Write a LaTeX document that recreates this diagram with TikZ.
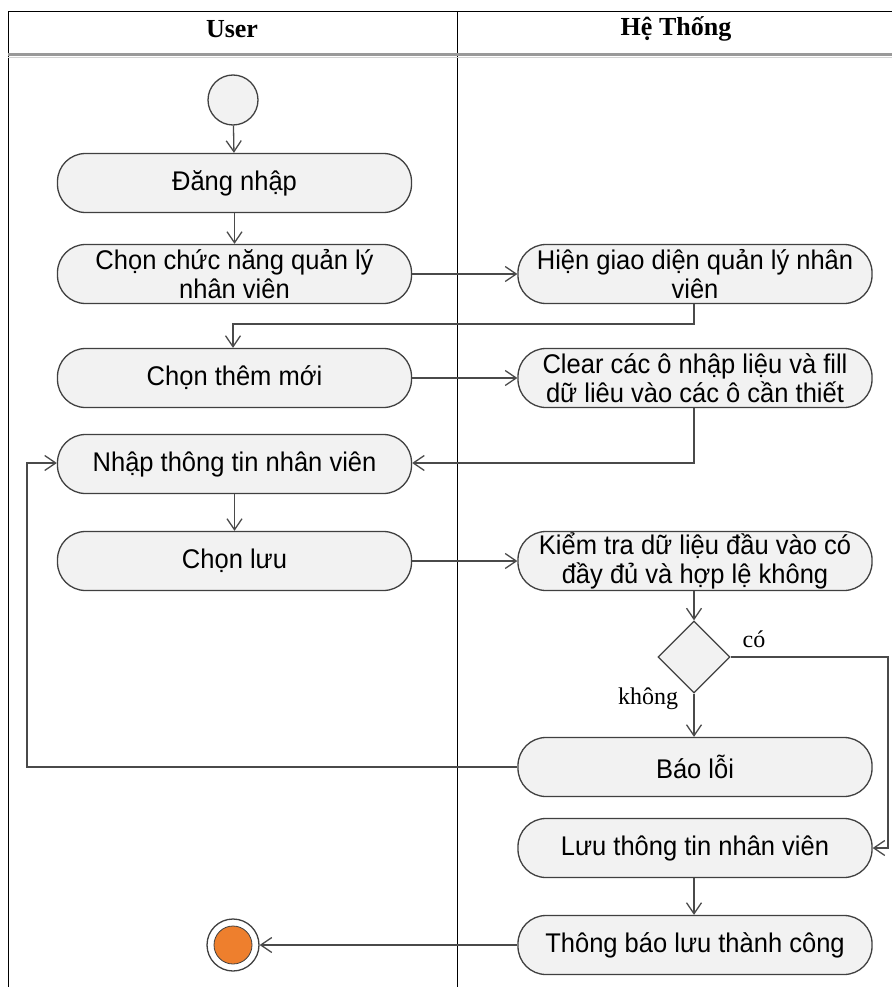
\documentclass[tikz,border=0pt]{standalone}
\usepackage{fontspec}
\setmainfont{Liberation Sans}[FakeStretch=0.945]
\newfontfamily\lanefont{Liberation Serif}
\usetikzlibrary{arrows.meta,shapes.geometric}
\definecolor{boxfill}{HTML}{F2F2F2}
\definecolor{boxline}{HTML}{404040}
\definecolor{flowline}{HTML}{4A4A4A}
\definecolor{endfill}{HTML}{EE7F2D}
\tikzset{
  action/.style={draw=boxline, line width=1.3pt, fill=boxfill, rounded corners=28pt,
    minimum width=354pt, minimum height=59pt, inner sep=0pt, align=center,
    font=\fontsize{27}{29}\selectfont},
  flow/.style={draw=flowline, line width=1.3pt, -{Straight Barb[length=11pt,width=15pt,line width=1.3pt]}},
  lanehead/.style={font=\lanefont\bfseries\fontsize{26}{28}\selectfont},
  guard/.style={font=\lanefont\fontsize{24}{28}\selectfont, inner sep=0pt},
  decision/.style={diamond, draw=boxline, line width=1.3pt, fill=boxfill,
    minimum width=72pt, minimum height=72pt, inner sep=0pt}
}
\begin{document}
\begin{tikzpicture}[x=1pt,y=-1pt]
\useasboundingbox (0,0) rectangle (892,987);

% swimlane frame
\draw[black, line width=1pt] (8,987) -- (8,12) -- (892,12);
\draw[black, line width=1pt] (457,12) -- (457,987);
\draw[gray!80, line width=2.2pt] (8,54.5) -- (892,54.5);
\draw[gray!35, line width=1.2pt] (8,57.5) -- (892,57.5);
\node[lanehead] (laneuser) at (232,29) {User};
\node[lanehead] (lanesys) at (676,29) {Hệ Thống};

% start node
\node[circle, draw=boxline, line width=1.3pt, fill=boxfill, minimum size=50pt, inner sep=0pt] (start) at (233,100) {};

% user actions
\node[action] (login) at (234.5,183) {Đăng nhập};
\node[action] (choosefn) at (234.5,274) {Chọn chức năng quản lý\\nhân viên};
\node[action] (addnew) at (234.5,378) {Chọn thêm mới};
\node[action] (input) at (234.5,464) {Nhập thông tin nhân viên};
\node[action] (save) at (234.5,561) {Chọn lưu};

% system actions
\node[action] (showui) at (695,274) {Hiện giao diện quản lý nhân\\viên};
\node[action] (clear) at (695,378) {Clear các ô nhập liệu và fill\\dữ liêu vào các ô cần thiết};
\node[action] (check) at (695,561) {Kiểm tra dữ liệu đầu vào có\\đầy đủ và hợp lệ không};
\node[decision] (valid) at (694,657) {};
\node[action] (error) at (695,767) {Báo lỗi};
\node[action] (store) at (695,848) {Lưu thông tin nhân viên};
\node[action] (notify) at (695,945) {Thông báo lưu thành công};

% final node
\node[circle, draw=boxline, line width=1.3pt, fill=white, minimum size=52pt, inner sep=0pt] (final) at (233,945) {};
\node[circle, draw=boxline, line width=0.8pt, fill=endfill, minimum size=38pt, inner sep=0pt] (finaldot) at (233,945) {};

% guard labels
\node[guard] (yes) at (754,639) {có};
\node[guard] (no) at (648,699) {không};

% control flow
\coordinate (turnA) at (694,324);
\coordinate (turnB) at (233,324);
\coordinate (turnC) at (694,463);
\coordinate (turnD) at (888,657);
\coordinate (turnE) at (888,848);
\coordinate (turnF) at (27,767);
\coordinate (turnG) at (27,463);

\draw[flow] (start) -- (login);
\draw[flow] (login) -- (choosefn);
\draw[flow] (choosefn.east) -- (showui.west);
\draw[flow] (showui.south -| turnA) -- (turnA) -- (turnB) -- (addnew.north -| turnB);
\draw[flow] (addnew.east) -- (clear.west);
\draw[flow] (clear.south -| turnC) -- (turnC) -- (input.east |- turnC);
\draw[flow] (input) -- (save);
\draw[flow] (save.east) -- (check.west);
\draw[flow] (check.south -| valid) -- (valid.north);
\draw[flow] (valid.east) -- (turnD) -- (turnE) -- (store.east);
\draw[flow] (valid.south) -- (error.north -| valid);
\draw[flow] (error.west) -- (turnF) -- (turnG) -- (input.west |- turnG);
\draw[flow] (store.south -| valid) -- (notify.north -| valid);
\draw[flow] (notify.west) -- (final);
\end{tikzpicture}
\end{document}
